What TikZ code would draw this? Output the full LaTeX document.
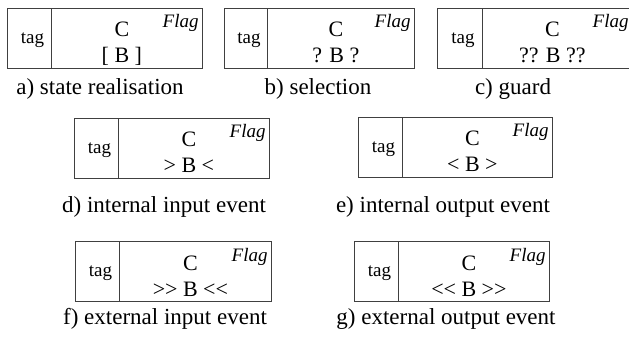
\documentclass[tikz,border=0pt]{standalone}
\usepackage{fontspec}
\setmainfont{Liberation Serif}
\usetikzlibrary{calc}

\tikzset{
  cell/.style={draw=black!75, line width=0.8pt, inner sep=0pt,
    minimum height=60pt, anchor=north west},
  tagtext/.style={inner sep=0pt, font=\fontsize{19}{22}\selectfont},
  celltext/.style={inner sep=0pt, font=\fontsize{22}{26}\selectfont},
  flagtext/.style={inner sep=0pt, font=\fontsize{19}{22}\selectfont\itshape},
  caption/.style={inner sep=0pt, anchor=base, font=\fontsize{23}{27}\selectfont}
}

% one notation box: #1 name, #2 left, #3 top, #4 divider, #5 right, #6 bracketed line
\newcommand\notationbox[6]{%
  \node[cell, minimum width={#4-#2}] (#1tag) at (#2,#3) {};
  \node[cell, minimum width={#5-#4}] (#1body) at (#4,#3) {};
  \node[tagtext, anchor=base] (#1tagtext) at ($(#1tag.center)+(3,5)$) {tag};
  \node[celltext, anchor=base] (#1class) at ($(#1body.north)+(-5,29)$) {C};
  \node[celltext, anchor=base] (#1inner) at ($(#1body.north)+(-5,55)$) {#6};
  \node[flagtext, anchor=base east] (#1flag) at ($(#1body.north east)+(-4,20)$) {Flag};
}

\begin{document}
\begin{tikzpicture}[x=1pt,y=-1pt]
  \useasboundingbox (0,0) rectangle (629,339);

  \notationbox{a}{7}{8}{51}{202}{[ B ]}
  \notationbox{b}{224}{8}{267}{414}{? B ?}
  \notationbox{c}{437}{8}{482}{632}{?? B ??}
  \notationbox{d}{74}{118}{118}{269}{> B <}
  \notationbox{e}{358}{117}{402}{552}{< B >}
  \notationbox{f}{75}{241}{119}{271}{>\kern0pt> B <\kern0pt<}
  \notationbox{g}{354}{241}{398}{549}{<\kern0pt< B >\kern0pt>}

  \node[caption] (acap) at (100,95) {a) state realisation};
  \node[caption] (bcap) at (318,95) {b) selection};
  \node[caption] (ccap) at (513,95) {c) guard};
  \node[caption] (dcap) at (164,213) {d) internal input event};
  \node[caption] (ecap) at (443,213) {e) internal output event};
  \node[caption] (fcap) at (165,324) {f) external input event};
  \node[caption] (gcap) at (446,324) {g) external output event};
\end{tikzpicture}
\end{document}
